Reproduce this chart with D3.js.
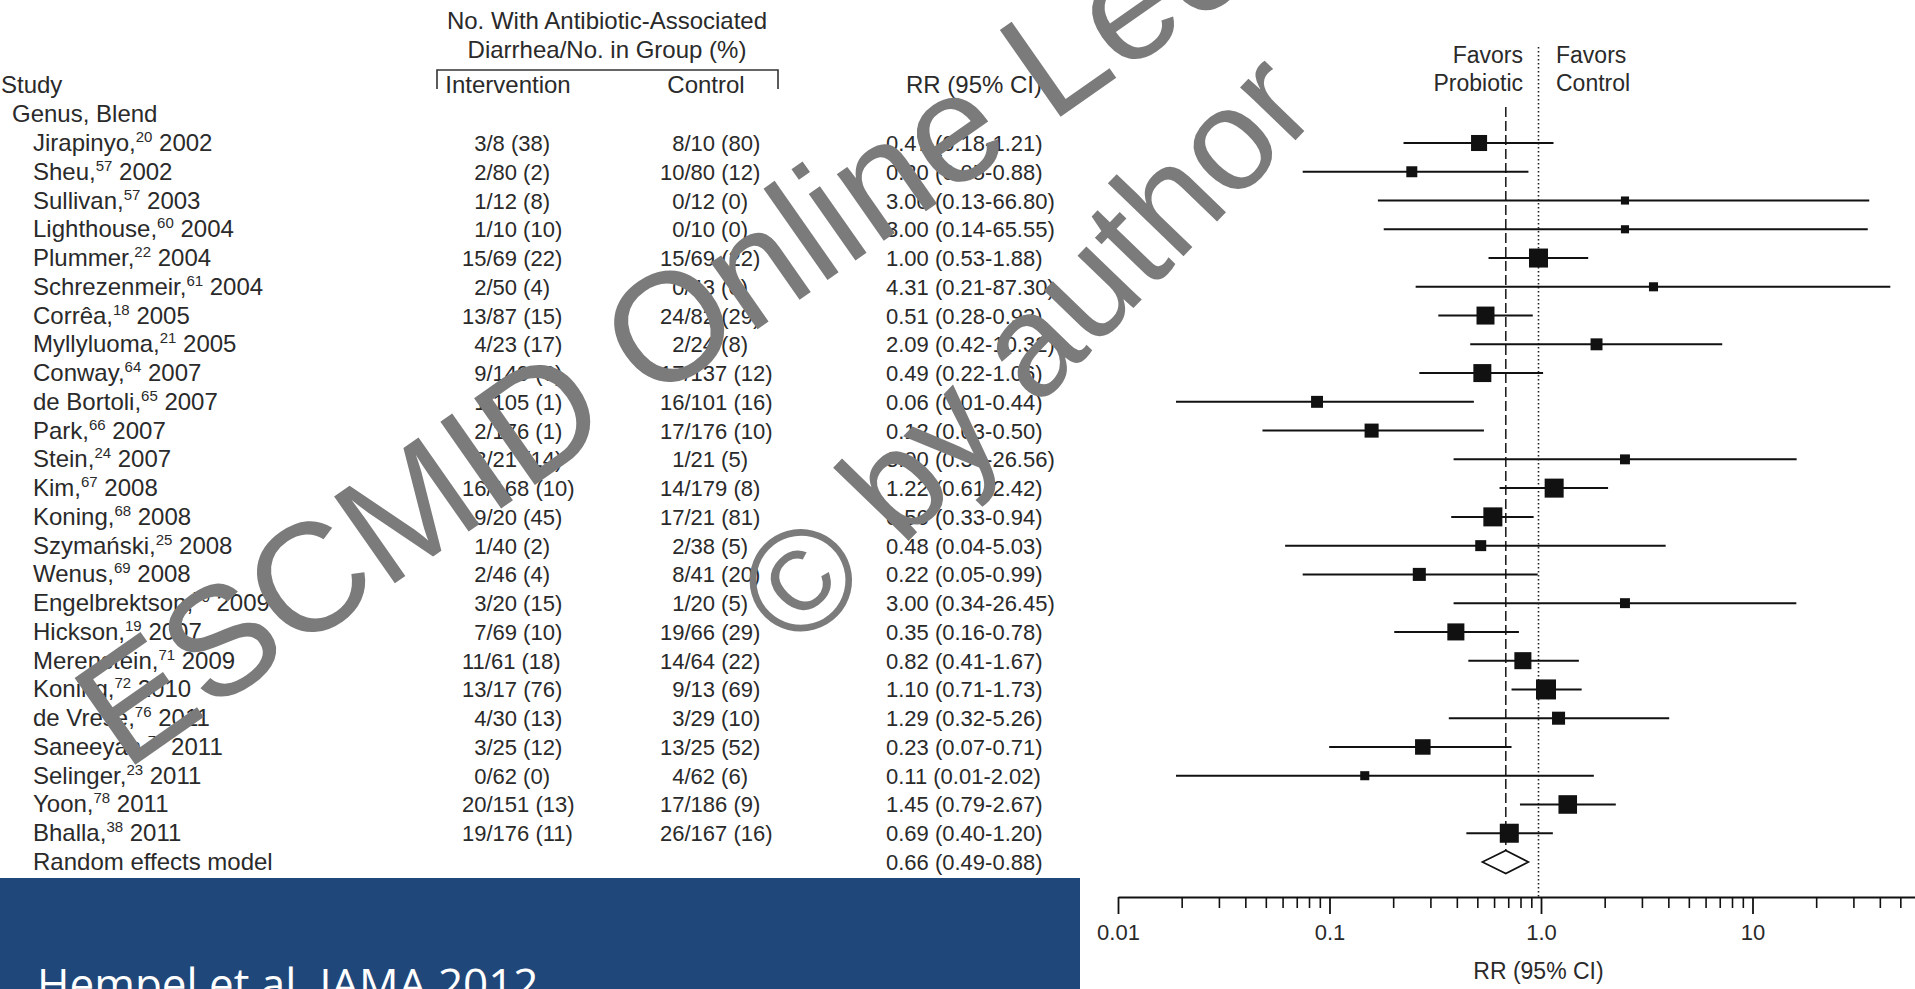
<!DOCTYPE html>
<html lang="en">
<head>
<meta charset="UTF-8">
<script src="https://d3js.org/d3.v7.min.js"></script>
<style>
body{
	margin: 0;
	background-color: white;
	overflow: hidden;
}
svg{
	display: block;
	font-family: "Liberation Sans", Arial, sans-serif;
}
</style>
</head>
<body>
<svg width="1915" height="989"></svg>
<script>
// ---- data ----
const studies = ["Jirapinyo", "Sheu", "Sullivan", "Lighthouse", "Plummer", "Schrezenmeir", "Corrêa",
	"Myllyluoma", "Conway", "de Bortoli", "Park", "Stein", "Kim", "Koning", "Szymański", "Wenus",
	"Engelbrektson", "Hickson", "Merenstein", "Koning", "de Vrese", "Saneeyan", "Selinger", "Yoon", "Bhalla"];
const refs = ["20", "57", "57", "60", "22", "61", "18", "21", "64", "65", "66", "24", "67", "68", "25", "69",
	"70", "19", "71", "72", "76", "77", "23", "78", "38"];
const years = ["2002", "2002", "2003", "2004", "2004", "2004", "2005", "2005", "2007", "2007", "2007", "2007",
	"2008", "2008", "2008", "2008", "2009", "2007", "2009", "2010", "2011", "2011", "2011", "2011", "2011"];
const intervention = ["3/8 (38)", "2/80 (2)", "1/12 (8)", "1/10 (10)", "15/69 (22)", "2/50 (4)", "13/87 (15)",
	"4/23 (17)", "9/149 (6)", "1/105 (1)", "2/176 (1)", "3/21 (14)", "16/168 (10)", "9/20 (45)", "1/40 (2)",
	"2/46 (4)", "3/20 (15)", "7/69 (10)", "11/61 (18)", "13/17 (76)", "4/30 (13)", "3/25 (12)", "0/62 (0)",
	"20/151 (13)", "19/176 (11)"];
const control = ["8/10 (80)", "10/80 (12)", "0/12 (0)", "0/10 (0)", "15/69 (22)", "0/43 (0)", "24/82 (29)",
	"2/24 (8)", "17/137 (12)", "16/101 (16)", "17/176 (10)", "1/21 (5)", "14/179 (8)", "17/21 (81)", "2/38 (5)",
	"8/41 (20)", "1/20 (5)", "19/66 (29)", "14/64 (22)", "9/13 (69)", "3/29 (10)", "13/25 (52)", "4/62 (6)",
	"17/186 (9)", "26/167 (16)"];
const rr = [0.47, 0.20, 3.00, 3.00, 1.00, 4.31, 0.51, 2.09, 0.49, 0.06, 0.12, 3.00, 1.22, 0.56, 0.48, 0.22,
	3.00, 0.35, 0.82, 1.10, 1.29, 0.23, 0.11, 1.45, 0.69];
const lower = [0.18, 0.05, 0.13, 0.14, 0.53, 0.21, 0.28, 0.42, 0.22, 0.01, 0.03, 0.34, 0.61, 0.33, 0.04, 0.05,
	0.34, 0.16, 0.41, 0.71, 0.32, 0.07, 0.01, 0.79, 0.40];
const upper = [1.21, 0.88, 66.80, 65.55, 1.88, 87.30, 0.93, 10.32, 1.06, 0.44, 0.50, 26.56, 2.42, 0.94, 5.03,
	0.99, 26.45, 0.78, 1.67, 1.73, 5.26, 0.71, 2.02, 2.67, 1.20];
// study weights (%), estimated from the square sizes
const weight = [4.7, 2.2, 1.2, 1.2, 6.6, 1.5, 5.9, 2.6, 5.9, 2.6, 3.6, 1.8, 6.6, 6.6, 2.2, 3.1, 1.8, 5.3, 5.3,
	7.3, 3.1, 4.4, 1.5, 6.3, 6.6];
const pooled = [0.66, 0.49, 0.88];  // RR, lower, upper
const tickValues = [0.01, 0.1, 1, 10];
const tickLabels = ["0.01", "0.1", "1.0", "10"];

const svg = d3.select("svg");
const textColor = "#2a2a2a";

const rowY = d3.scaleLinear().domain([0, studies.length]).range([143, 862]);
// marks and axis use separate log scales, as they do in the source figure
const x = d3.scaleLog().domain([0.01, 100]).range([1176, 1901]);
const xAxisScale = d3.scaleLog().domain([0.01, 100]).range([1118, 1964]);
const size = d3.scaleSqrt().domain([0, d3.max(weight)]).range([0, 20]);

const fmt = d3.format(".2f");

// ---- header ----
const head = svg.append("g").attr("fill", textColor).style("font-size", "24px");
head.append("text").attr("x", 607).attr("y", 29).attr("text-anchor", "middle").text("No. With Antibiotic-Associated");
head.append("text").attr("x", 607).attr("y", 58).attr("text-anchor", "middle").text("Diarrhea/No. in Group (%)");
head.append("path")
	.attr("d", "M437,89V70H778V89")
	.attr("fill", "none").attr("stroke", "#333").attr("stroke-width", 1.6);
head.append("text").attr("x", 1).attr("y", 93).text("Study");
head.append("text").attr("x", 508).attr("y", 93).attr("text-anchor", "middle").text("Intervention");
head.append("text").attr("x", 706).attr("y", 93).attr("text-anchor", "middle").text("Control");
head.append("text").attr("x", 974).attr("y", 93).attr("text-anchor", "middle").text("RR (95% CI)");
head.append("text").attr("x", 12).attr("y", 122).text("Genus, Blend");

// ---- study rows ----
const rows = svg.append("g").attr("fill", textColor);

const names = rows.selectAll(".name")
	.data(studies)
	.join("text")
	.attr("class", "name")
	.attr("x", 33)
	.attr("y", (d, i) => rowY(i) + 8)
	.style("font-size", "24px");
names.append("tspan").text(d => d + ",");
names.append("tspan").attr("dy", -9).style("font-size", "15px").text((d, i) => refs[i]);
names.append("tspan").attr("dy", 9).text((d, i) => " " + years[i]);

const digitW = 12.2;
rows.selectAll(".int")
	.data(intervention)
	.join("text")
	.attr("class", "int")
	.attr("x", d => 462 + (2 - d.split("/")[0].length) * digitW)
	.attr("y", (d, i) => rowY(i) + 8)
	.style("font-size", "22px")
	.text(d => d);

rows.selectAll(".ctl")
	.data(control)
	.join("text")
	.attr("class", "ctl")
	.attr("x", d => 660 + (2 - d.split("/")[0].length) * digitW)
	.attr("y", (d, i) => rowY(i) + 8)
	.style("font-size", "22px")
	.text(d => d);

rows.selectAll(".rr")
	.data(rr)
	.join("text")
	.attr("class", "rr")
	.attr("x", 886)
	.attr("y", (d, i) => rowY(i) + 8)
	.style("font-size", "22px")
	.text((d, i) => fmt(d) + " (" + fmt(lower[i]) + "-" + fmt(upper[i]) + ")");

const last = studies.length;
rows.append("text").attr("x", 33).attr("y", rowY(last) + 8).style("font-size", "24px").text("Random effects model");
rows.append("text").attr("x", 886).attr("y", rowY(last) + 8).style("font-size", "22px")
	.text(fmt(pooled[0]) + " (" + fmt(pooled[1]) + "-" + fmt(pooled[2]) + ")");

// ---- forest plot ----
const plot = svg.append("g");

plot.append("line")
	.attr("x1", x(1)).attr("x2", x(1))
	.attr("y1", 47).attr("y2", 897)
	.attr("stroke", "#222").attr("stroke-width", 1.6).attr("stroke-dasharray", "1.6,2.4");

plot.append("line")
	.attr("x1", x(pooled[0])).attr("x2", x(pooled[0]))
	.attr("y1", 107).attr("y2", 877)
	.attr("stroke", "#222").attr("stroke-width", 1.6).attr("stroke-dasharray", "10,4");

plot.selectAll(".ci")
	.data(rr)
	.join("line")
	.attr("class", "ci")
	.attr("x1", (d, i) => x(lower[i]))
	.attr("x2", (d, i) => x(upper[i]))
	.attr("y1", (d, i) => rowY(i))
	.attr("y2", (d, i) => rowY(i))
	.attr("stroke", "#111")
	.attr("stroke-width", 2);

plot.selectAll(".box")
	.data(rr)
	.join("rect")
	.attr("class", "box")
	.attr("x", (d, i) => x(d) - size(weight[i]) / 2)
	.attr("y", (d, i) => rowY(i) - size(weight[i]) / 2)
	.attr("width", (d, i) => size(weight[i]))
	.attr("height", (d, i) => size(weight[i]))
	.attr("fill", "#111");

const yp = rowY(last);
plot.append("path")
	.attr("d", "M" + x(pooled[1]) + "," + yp + "L" + x(pooled[0]) + "," + (yp - 11.5) +
		"L" + x(pooled[2]) + "," + yp + "L" + x(pooled[0]) + "," + (yp + 11.5) + "Z")
	.attr("fill", "white").attr("stroke", "#111").attr("stroke-width", 1.6);

// favours labels
const fav = plot.append("g").attr("fill", textColor).style("font-size", "23px");
fav.append("text").attr("x", 1523).attr("y", 63).attr("text-anchor", "end").text("Favors");
fav.append("text").attr("x", 1523).attr("y", 91).attr("text-anchor", "end").text("Probiotic");
fav.append("text").attr("x", 1556).attr("y", 63).text("Favors");
fav.append("text").attr("x", 1556).attr("y", 91).text("Control");

// ---- axis ----
const minor = xAxisScale.ticks().filter(v => !tickValues.includes(v) && v < 100);

const minorAxis = svg.append("g")
	.attr("transform", "translate(0,897)")
	.call(d3.axisBottom(xAxisScale).tickValues(minor).tickSize(11).tickSizeOuter(0).tickFormat(""));
minorAxis.select(".domain").remove();
minorAxis.selectAll("line").attr("stroke", "#111").attr("stroke-width", 1.6);

const majorAxis = svg.append("g")
	.attr("transform", "translate(0,897)")
	.call(d3.axisBottom(xAxisScale).tickValues(tickValues).tickSize(17).tickSizeOuter(0).tickPadding(10)
		.tickFormat((d, i) => tickLabels[i]));
majorAxis.select(".domain").attr("stroke", "#111").attr("stroke-width", 2);
majorAxis.selectAll("line").attr("stroke", "#111").attr("stroke-width", 1.8);
majorAxis.selectAll("text")
	.attr("fill", textColor)
	.style("font-family", "\"Liberation Sans\", Arial, sans-serif")
	.style("font-size", "22px");

svg.append("text")
	.attr("x", x(1)).attr("y", 979)
	.attr("text-anchor", "middle")
	.attr("fill", textColor)
	.style("font-size", "23px")
	.text("RR (95% CI)");

// ---- watermark ----
const wm = svg.append("g").attr("fill", "#7b7b7b");
wm.append("text")
	.attr("transform", "translate(125,772) rotate(-35)")
	.style("font-size", "154px")
	.text("ESCMID Online Lecture Library");
wm.append("text")
	.attr("transform", "translate(800,580) rotate(-46)")
	.attr("x", -53).attr("y", 51)
	.style("font-size", "145px")
	.text("© by author");

// ---- citation banner ----
svg.append("rect")
	.attr("x", 0).attr("y", 878)
	.attr("width", 1080).attr("height", 111)
	.attr("fill", "#20477a");
svg.append("text")
	.attr("x", 37).attr("y", 1000)
	.attr("fill", "white")
	.style("font-family", "\"Open Sans\", \"Noto Sans\", sans-serif")
	.style("font-size", "44px")
	.text("Hempel et al. JAMA 2012");
</script>
</body>
</html>
